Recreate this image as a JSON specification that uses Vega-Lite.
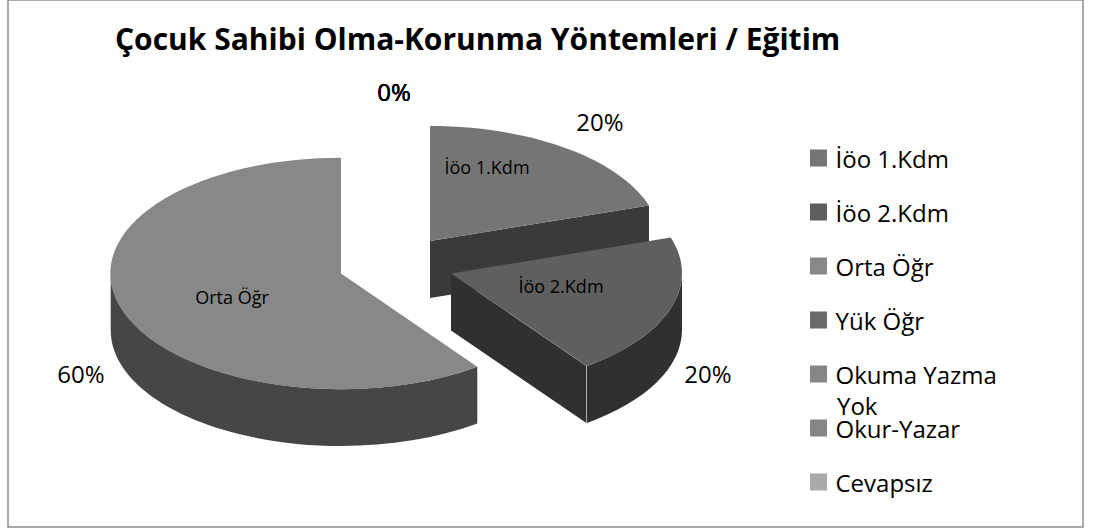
{"$schema":"https://vega.github.io/schema/vega-lite/v6.json","autosize":{"type":"none"},"padding":{"left":8,"top":0,"right":11,"bottom":2},"width":1075,"height":527,"background":"#ffffff","view":{"stroke":"#8f8f8f","strokeWidth":1.5,"fill":"#ffffff"},"title":{"text":"Çocuk Sahibi Olma-Korunma Yöntemleri / Eğitim","anchor":"start","frame":"group","offset":0,"dx":107,"dy":80,"baseline":"alphabetic","font":"Open Sans","fontSize":30,"fontWeight":"bold","color":"#000000"},"data":{"values":[{"order":1,"egitim":"İöo 1.Kdm","share":0.2},{"order":2,"egitim":"İöo 2.Kdm","share":0.2},{"order":3,"egitim":"Orta Öğr","share":0.6},{"order":4,"egitim":"Yük Öğr","share":0},{"order":5,"egitim":"Okuma Yazma Yok","share":0},{"order":6,"egitim":"Okur-Yazar","share":0},{"order":7,"egitim":"Cevapsız","share":0}]},"layer":[{"transform":[{"filter":"datum.share > 0"}],"mark":{"type":"point","filled":true,"opacity":1,"strokeWidth":0,"size":4},"encoding":{"shape":{"field":"egitim","type":"nominal","legend":null,"scale":{"domain":["İöo 1.Kdm","İöo 2.Kdm","Orta Öğr"],"range":["M-115.5 -22.5 L103.5 -58 L103.5 -1 L-115.5 34.5 Z","M-94.5 10 L40.9 102.5 L40.9 159.5 L-94.5 67 Z M41.5 102.5 A231 115 0 0 0 136.5 10 L136.5 67 A231 115 0 0 1 41.5 159.5 Z","M-434.8 10 A230.3 115.8 0 0 0 -68.2 103.2 L-68.2 160 A230.3 115.8 0 0 1 -434.8 66.5 Z"]}},"fill":{"field":"egitim","type":"nominal","legend":null,"scale":{"domain":["İöo 1.Kdm","İöo 2.Kdm","Orta Öğr"],"range":["#3a3a3a","#303030","#464646"]}},"order":{"field":"order"}}},{"transform":[{"filter":"datum.share > 0"}],"mark":{"type":"point","filled":true,"opacity":1,"strokeWidth":0,"size":4},"encoding":{"shape":{"field":"egitim","type":"nominal","legend":null,"scale":{"domain":["İöo 1.Kdm","İöo 2.Kdm","Orta Öğr"],"range":["M-115.5 -22.5 L-115.5 -137.5 A230 115 0 0 1 103.5 -58 Z","M-94.5 10 L125.2 -26 A231 115 0 0 1 41.2 102.5 Z","M-204.5 10 L-68.2 103.2 A230.3 115.8 0 1 1 -204.5 -105.8 Z"]}},"color":{"field":"egitim","type":"nominal","scale":{"domain":["İöo 1.Kdm","İöo 2.Kdm","Orta Öğr","Yük Öğr","Okuma Yazma Yok","Okur-Yazar","Cevapsız"],"range":["#757575","#5f5f5f","#888888","#6b6b6b","#868686","#868686","#a9a9a9"]},"legend":{"orient":"none","legendX":798.5,"legendY":131,"title":null,"symbolType":"square","symbolSize":289,"symbolStrokeWidth":0,"symbolOpacity":1,"padding":0,"clipHeight":53.8,"rowPadding":0,"labelFont":"Open Sans","labelFontSize":24,"labelColor":"#000000","labelLimit":260,"labelOffset":5,"labelBaseline":"alphabetic","labelExpr":"datum.label == 'Okuma Yazma Yok' ? 'Okuma Yazma' : datum.label","encoding":{"labels":{"dy":{"value":10}}}}}}},{"transform":[{"filter":"datum.egitim == 'Okuma Yazma Yok'"}],"mark":{"type":"text","font":"Open Sans","fontSize":24,"color":"#000000","align":"left","baseline":"middle","text":"Yok"},"encoding":{"x":{"field":"order","type":"quantitative","axis":null,"scale":{"domain":[4,6],"range":[829,829]}},"y":{"field":"order","type":"quantitative","axis":null,"scale":{"domain":[4,6],"range":[408,408]}}}},{"transform":[{"filter":"datum.share > 0"}],"mark":{"type":"text","font":"Open Sans","fontSize":18,"color":"#000000","align":"center","baseline":"middle"},"encoding":{"text":{"field":"egitim","type":"nominal"},"x":{"field":"order","type":"quantitative","axis":null,"scale":{"domain":[1,2,3],"range":[479,553,224]}},"y":{"field":"order","type":"quantitative","axis":null,"scale":{"domain":[1,2,3],"range":[169,288,299]}}}},{"mark":{"type":"text","font":"Open Sans","fontSize":24,"color":"#000000","align":"center","baseline":"middle"},"encoding":{"text":{"field":"share","type":"quantitative","format":".0%"},"x":{"field":"order","type":"quantitative","axis":null,"scale":{"domain":[1,2,3,4,7],"range":[592,700,73,386,386]}},"y":{"field":"order","type":"quantitative","axis":null,"scale":{"domain":[1,2,3,4,7],"range":[124,376,376,94,94]}}}}],"resolve":{"scale":{"shape":"independent","x":"independent","y":"independent"}}}
